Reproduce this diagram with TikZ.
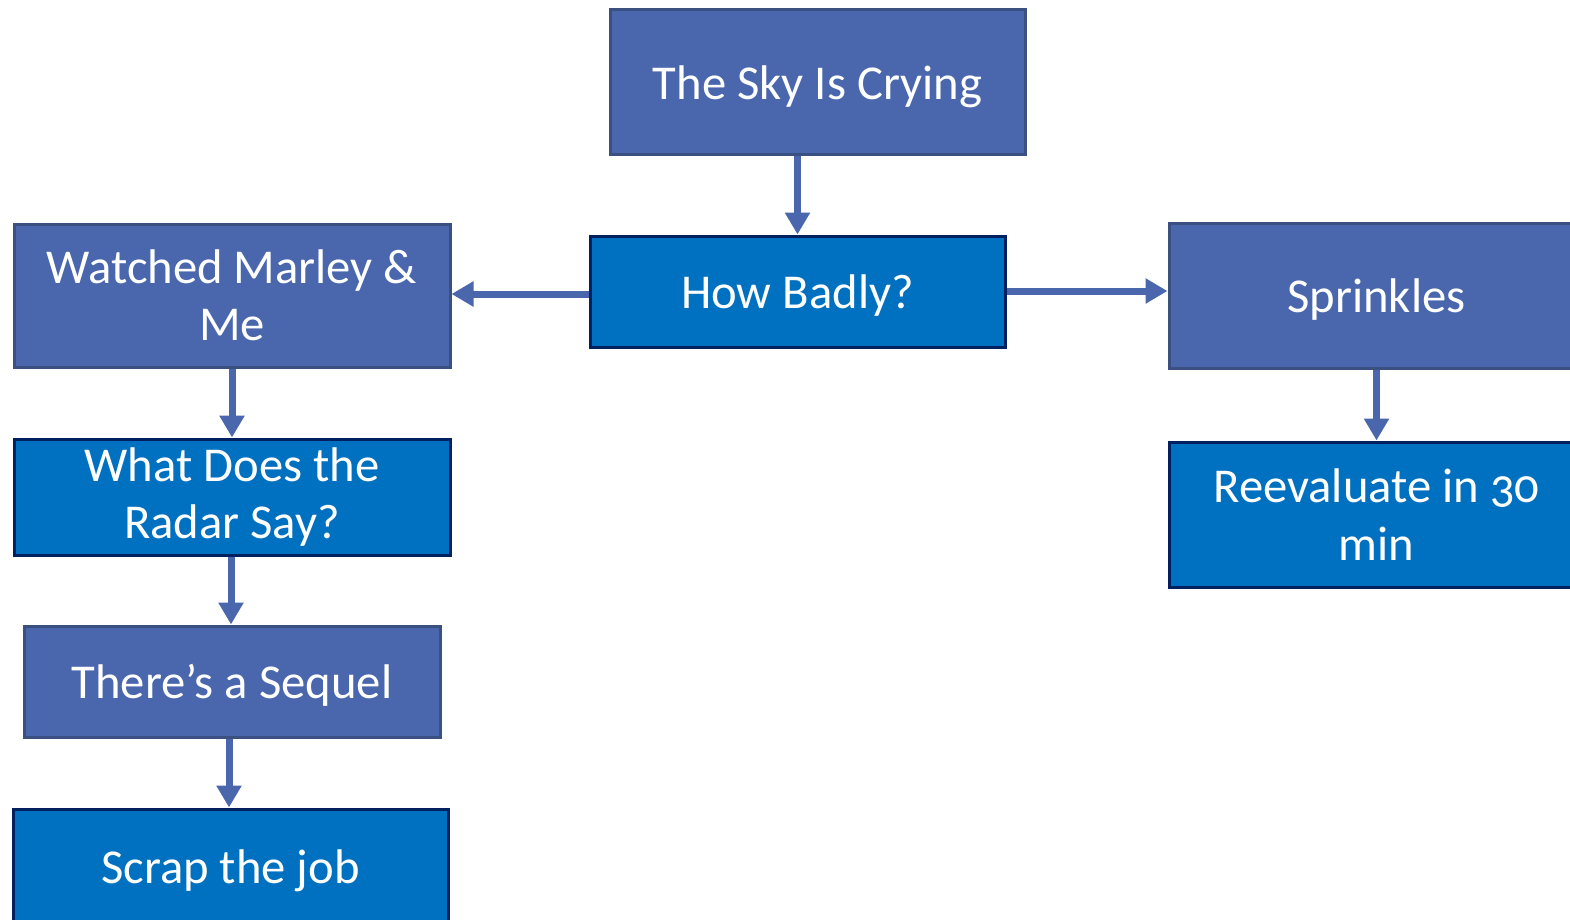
\documentclass[tikz,border=0pt]{standalone}
\usepackage{fontspec}
\setmainfont[Numbers=OldStyle]{Carlito}
\usetikzlibrary{arrows.meta}
\definecolor{pfill}{RGB}{74,103,173}
\definecolor{pborder}{RGB}{58,80,128}
\definecolor{bfill}{RGB}{0,112,192}
\definecolor{bborder}{RGB}{0,32,96}
\tikzset{
  box/.style={rectangle, line width=2.25pt, text=white, align=center, inner sep=0pt,
    font=\fontsize{36.5}{43}\selectfont},
  pbox/.style={box, draw=pborder, fill=pfill},
  bbox/.style={box, draw=bborder, fill=bfill},
  oneline/.style={text height=33pt, text depth=8pt},
  arr/.style={draw=pfill, line width=5.25pt, -{Triangle[length=16.5pt,width=18pt]}}
}
\begin{document}
\begin{tikzpicture}[x=0.75pt,y=-0.75pt]
\useasboundingbox[fill=white] (0,0) rectangle (1570,920);
\node[pbox, oneline, minimum width=415*0.75pt, minimum height=145*0.75pt] (sky) at (817.5,82.5) {The Sky Is Crying};
\node[bbox, oneline, minimum width=415*0.75pt, minimum height=111*0.75pt] (how) at (797.5,291.5) {How Badly?};
\node[pbox, minimum width=436*0.75pt, minimum height=143*0.75pt] (marley) at (232,295.5) {Watched Marley \&\\Me};
\node[bbox, minimum width=436*0.75pt, minimum height=116*0.75pt] (radar) at (232,497) {What Does the\\Radar Say?};
\node[pbox, oneline, minimum width=416*0.75pt, minimum height=111*0.75pt] (sequel) at (232,681.5) {There’s a Sequel};
\node[bbox, oneline, minimum width=435*0.75pt, minimum height=116*0.75pt] (scrap) at (230.5,867) {Scrap the job};
\node[pbox, oneline, minimum width=415*0.75pt, minimum height=145*0.75pt] (sprink) at (1376.5,295.5) {Sprinkles};
\node[bbox, minimum width=415*0.75pt, minimum height=145*0.75pt] (reeval) at (1376.5,514.5) {Reevaluate in 30\\min};
\draw[arr] (how.north |- sky.south) -- (how.north);
\draw[arr] (how.west |- 0,294) -- (marley.east |- 0,294);
\draw[arr] (how.east |- 0,291) -- (sprink.west |- 0,291);
\draw[arr] (marley.south) -- (radar.north);
\draw[arr] (radar.south -| 231,0) -- (sequel.north -| 231,0);
\draw[arr] (sequel.south -| 229,0) -- (scrap.north -| 229,0);
\draw[arr] (sprink.south) -- (reeval.north);
\end{tikzpicture}
\end{document}
